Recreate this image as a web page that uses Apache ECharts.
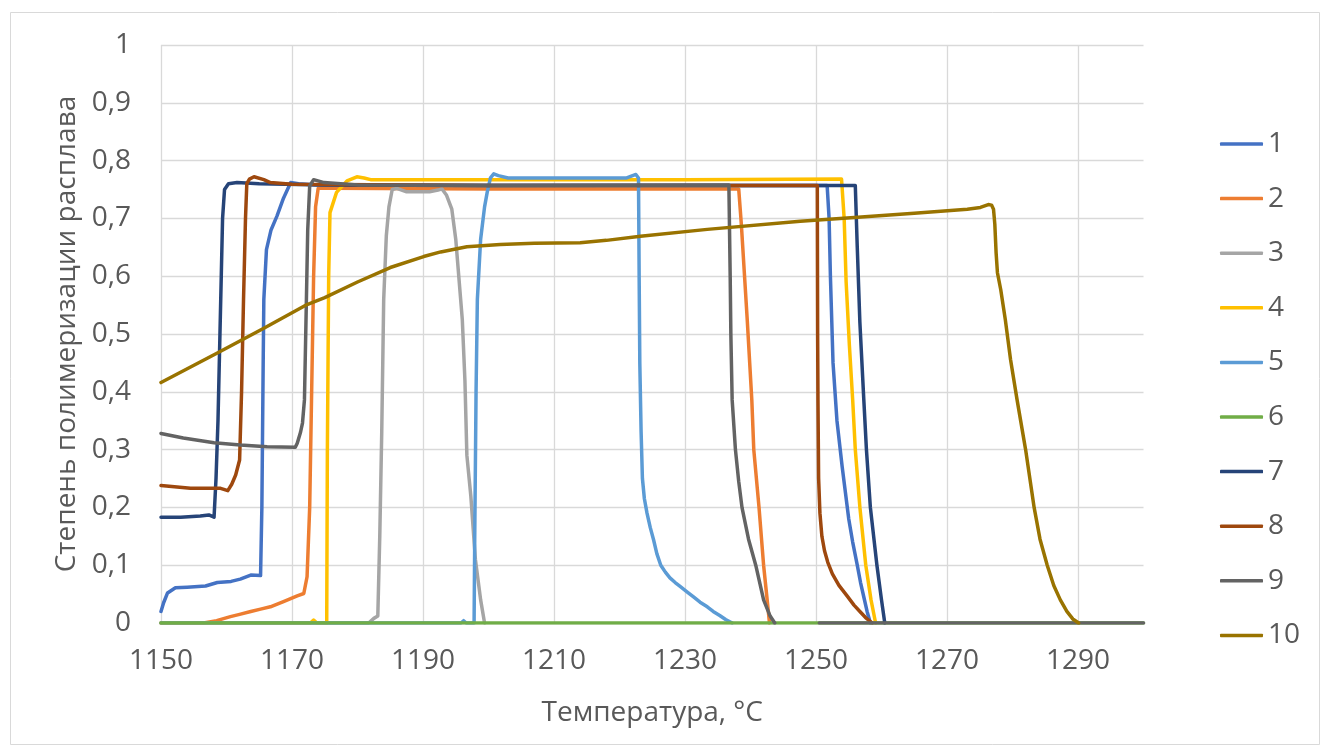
<!DOCTYPE html>
<html>
<head>
<meta charset="utf-8">
<script src="https://cdn.jsdelivr.net/npm/echarts@6/dist/echarts.min.js"></script>
<style>
html,body{margin:0;padding:0;background:#fff;}
#c{width:1324px;height:756px;}
</style>
</head>
<body>
<div id="c"></div>
<script>
// Temperature origin of the x axis and tick labels
const X0 = 1150;
const xTickLabels = [1150, 1170, 1190, 1210, 1230, 1250, 1270, 1290];
const seriesNames = ['1','2','3','4','5','6','7','8','9','10'];
const colors = ['#4472C4','#ED7D31','#A5A5A5','#FFC000','#5B9BD5','#70AD47','#264478','#9E480E','#636363','#997300'];

// Series 1
const t1 = [1150,1150.4,1151,1152.2,1154,1156.8,1158.6,1160.7,1162.1,1163.7,1165.2,1165.4,1165.6,1165.7,1166.1,1166.8,1167.7,1168.7,1169.8,1171,1175,1200,1230,1251.7,1252,1252.2,1252.6,1253.2,1254,1255,1255.6,1256.3,1256.8,1257.3,1257.8,1258.3];
const v1 = [0.02,0.035,0.052,0.061,0.062,0.064,0.07,0.072,0.076,0.083,0.082,0.2,0.45,0.56,0.646,0.68,0.704,0.735,0.762,0.76,0.757,0.757,0.757,0.757,0.7,0.6,0.45,0.35,0.27,0.18,0.14,0.1,0.07,0.045,0.02,0];
// Series 2
const t2 = [1150,1156.5,1158.5,1160.6,1162,1163.7,1165.2,1166.7,1168.7,1170.8,1171.8,1172.3,1172.7,1173,1173.3,1173.6,1174,1176,1200,1238.2,1238.6,1239.5,1240.2,1240.5,1241.3,1242,1242.5,1242.9];
const v2 = [0,0,0.004,0.011,0.015,0.02,0.024,0.028,0.037,0.047,0.051,0.08,0.2,0.4,0.6,0.72,0.752,0.752,0.751,0.751,0.69,0.525,0.386,0.3,0.2,0.1,0.045,0];
// Series 3
const t3 = [1150,1181.7,1182.5,1183.1,1183.4,1183.7,1184,1184.4,1184.8,1185.3,1186,1187.5,1191,1192.3,1192.9,1193.6,1194.4,1195,1196,1196.4,1196.7,1197.3,1198,1198.8,1199.4];
const v3 = [0,0,0.008,0.012,0.15,0.33,0.56,0.67,0.72,0.75,0.752,0.746,0.746,0.749,0.751,0.74,0.716,0.664,0.525,0.42,0.29,0.22,0.11,0.04,0];
// Series 4
const t4 = [1150,1172.8,1173.3,1173.8,1175.3,1175.4,1175.6,1175.8,1176.8,1178.4,1179.9,1181,1182,1200,1230,1253.9,1254.3,1254.6,1255.1,1255.6,1256,1256.7,1257.6,1258.4,1259.1];
const v4 = [0,0,0.005,0,0,0.3,0.6,0.71,0.745,0.765,0.772,0.77,0.767,0.767,0.767,0.768,0.7,0.59,0.48,0.386,0.3,0.2,0.1,0.04,0];
// Series 5
const t5 = [1150,1195.8,1196.2,1196.6,1197.8,1197.9,1198.1,1198.3,1198.8,1199.4,1199.8,1200.3,1200.8,1201.5,1203,1210,1221.1,1222,1222.5,1222.9,1223,1223.1,1223.3,1223.5,1223.8,1224.2,1224.7,1225.2,1225.7,1226.3,1227,1227.7,1228.5,1229.3,1230.3,1231.3,1232.3,1233.4,1234.3,1235.3,1236.2,1237.2];
const v5 = [0,0,0.004,0,0,0.15,0.4,0.56,0.664,0.72,0.745,0.77,0.777,0.774,0.77,0.77,0.77,0.774,0.776,0.77,0.6,0.45,0.33,0.25,0.215,0.19,0.165,0.144,0.12,0.1,0.088,0.078,0.07,0.063,0.054,0.045,0.036,0.028,0.02,0.013,0.006,0];
// Series 6
const t6 = [1150,1200,1250,1300];
const v6 = [0,0,0,0];
// Series 7
const t7 = [1150,1153,1156,1157.3,1158.1,1158.4,1158.7,1159,1159.2,1159.4,1159.7,1160.3,1161.6,1165,1175,1200,1240,1256,1256.3,1256.7,1257.3,1257.7,1258.3,1259.3,1260,1260.5];
const v7 = [0.183,0.183,0.185,0.187,0.183,0.25,0.35,0.5,0.6,0.7,0.75,0.76,0.762,0.76,0.758,0.757,0.757,0.757,0.65,0.52,0.386,0.3,0.2,0.1,0.04,0];
// Series 8
const t8 = [1150,1154.5,1159.1,1160.2,1160.8,1161.4,1162,1162.3,1162.6,1162.9,1163.1,1163.5,1164.2,1165.7,1166.7,1170,1200,1240,1250.2,1250.25,1250.3,1250.4,1250.6,1250.9,1251.3,1251.8,1252.5,1253.5,1254.8,1255.8,1256.7,1257.6,1258.6];
const v8 = [0.238,0.233,0.233,0.229,0.24,0.256,0.282,0.4,0.56,0.7,0.76,0.768,0.772,0.767,0.762,0.759,0.757,0.757,0.757,0.5,0.386,0.25,0.19,0.15,0.125,0.105,0.085,0.065,0.046,0.031,0.02,0.009,0];
// Series 9
const t9 = [1150,1153.4,1158.1,1162.1,1166.2,1170.5,1170.8,1171.3,1171.6,1171.9,1172.2,1172.4,1172.7,1173.3,1174.9,1180,1200,1236.7,1236.9,1237,1237.2,1237.7,1238.2,1238.7,1239.7,1240.8,1242,1243,1243.7,1247,1250.5,1300];
const v9 = [0.328,0.32,0.312,0.308,0.305,0.304,0.311,0.33,0.346,0.386,0.56,0.68,0.756,0.767,0.762,0.758,0.757,0.758,0.6,0.5,0.386,0.3,0.245,0.2,0.145,0.1,0.04,0.012,0,null,0,0];
// Series 10
const t10 = [1150,1158.6,1165.7,1172.3,1175,1180,1185,1190.1,1192.7,1196.7,1201.8,1207,1214,1218,1223.2,1233.4,1247.6,1255.3,1265,1273.1,1275.1,1276.3,1276.8,1277.1,1277.3,1277.5,1277.7,1278.2,1278.9,1279.7,1280.7,1282,1283.3,1284.2,1285.3,1286.3,1287.3,1288.3,1289.2,1290.1];
const v10 = [0.416,0.467,0.51,0.551,0.563,0.59,0.615,0.634,0.642,0.651,0.655,0.657,0.658,0.662,0.669,0.681,0.695,0.701,0.709,0.716,0.719,0.724,0.723,0.716,0.69,0.64,0.606,0.577,0.525,0.456,0.386,0.3,0.2,0.145,0.1,0.065,0.04,0.02,0.007,0];

const temps = [t1,t2,t3,t4,t5,t6,t7,t8,t9,t10];
const vals = [v1,v2,v3,v4,v5,v6,v7,v8,v9,v10];

const FONT = 'Open Sans';
const TXT = '#595959';
const GRID = '#D9D9D9';

const series = seriesNames.map((name, i) => ({
  name: name,
  type: 'line',
  symbol: 'none',
  showSymbol: false,
  connectNulls: false,
  color: colors[i],
  lineStyle: { width: 3.5, color: colors[i], cap: 'round', join: 'round' },
  data: temps[i].map((t, k) => [t - X0, vals[i][k]]),
  animation: false
}));

const chart = echarts.init(document.getElementById('c'), null, { renderer: 'canvas' });
chart.setOption({
  backgroundColor: '#fff',
  animation: false,
  textStyle: { fontFamily: FONT },
  graphic: [{
    type: 'rect',
    shape: { x: 10.5, y: 12.5, width: 1309, height: 732 },
    style: { fill: 'none', stroke: GRID, lineWidth: 1 },
    silent: true, z: -10
  }],
  grid: { left: 161, top: 45, right: 180.5, bottom: 133, containLabel: false },
  xAxis: {
    type: 'value',
    min: 0,
    max: 150,
    interval: 20,
    name: 'Температура, °C',
    nameLocation: 'middle',
    nameGap: 76,
    nameTextStyle: { fontFamily: FONT, fontSize: 28, color: TXT },
    axisLine: { show: false },
    axisTick: { show: false },
    axisLabel: {
      fontFamily: FONT, fontSize: 28, color: TXT, margin: 24,
      showMaxLabel: false,
      formatter: function (v) {
        const t = v + X0;
        return xTickLabels.indexOf(t) >= 0 ? String(t) : '';
      }
    },
    splitLine: { show: true, showMaxLine: false, lineStyle: { color: GRID, width: 1.3 } }
  },
  yAxis: {
    type: 'value',
    min: 0,
    max: 1,
    interval: 0.1,
    name: 'Степень полимеризации расплава',
    nameLocation: 'middle',
    nameGap: 80,
    nameTextStyle: { fontFamily: FONT, fontSize: 28, color: TXT },
    axisLine: { show: false },
    axisTick: { show: false },
    axisLabel: {
      fontFamily: FONT, fontSize: 28, color: TXT, margin: 30,
      formatter: function (v) { return String(+v.toFixed(1)).replace('.', ','); }
    },
    splitLine: { show: true, lineStyle: { color: GRID, width: 1.3 } }
  },
  legend: {
    orient: 'vertical',
    left: 1215,
    top: 124,
    icon: 'roundRect',
    itemWidth: 43,
    itemHeight: 3.5,
    itemGap: 24.6,
    data: seriesNames,
    textStyle: { fontFamily: FONT, fontSize: 28, color: TXT, lineHeight: 30, padding: [0,0,0,0] }
  },
  series: series
});
</script>
</body>
</html>
